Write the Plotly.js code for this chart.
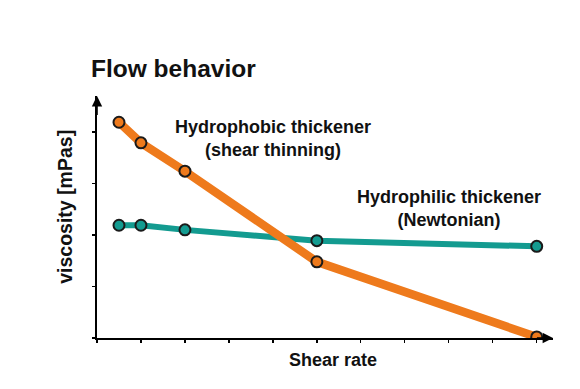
<!DOCTYPE html>
<html><head><meta charset="utf-8">
<script src="https://cdn.plot.ly/plotly-3.0.1.min.js"></script>
<style>html,body{margin:0;padding:0;background:#fff}#c{width:580px;height:389px}</style>
</head><body><div id="c"></div><script>
const shearRate = [0.5, 1, 2, 5, 10];
const hydrophobic = [4.19, 3.79, 3.24, 1.48, 0.02];
const hydrophilic = [2.19, 2.19, 2.10, 1.89, 1.78];
const seriesNames = ['Hydrophobic thickener (shear thinning)', 'Hydrophilic thickener (Newtonian)'];
const labelHydrophobic = ['Hydrophobic thickener', '(shear thinning)'];
const labelHydrophilic = ['Hydrophilic thickener', '(Newtonian)'];
const titleText = 'Flow behavior';
const xTitle = 'Shear rate';
const yTitle = 'viscosity [mPas]';

const ORANGE = '#EE7A1C', TEAL = '#139B90', FONT = '"Liberation Sans", Arial, sans-serif';
const XMAX = 10.37, YMAX = 4.70;

const traces = [
  {x: shearRate, y: hydrophilic, name: seriesNames[1], mode: 'lines+markers',
   line: {color: TEAL, width: 6},
   marker: {size: 11, color: TEAL, line: {color: '#1a1a1a', width: 2}}},
  {x: shearRate, y: hydrophobic, name: seriesNames[0], mode: 'lines+markers',
   line: {color: ORANGE, width: 8.5},
   marker: {size: 11, color: ORANGE, line: {color: '#1a1a1a', width: 2}}}
];

function label(lines, x, y) {
  return {text: '<b>' + lines.join('<br>') + '</b>', x: x, y: y, xref: 'x', yref: 'y', showarrow: false,
    align: 'center', font: {family: FONT, size: 18, color: '#111'}, xanchor: 'center', yanchor: 'middle'};
}
const annotations = [
  label(labelHydrophobic, 4.0, 3.87),
  label(labelHydrophilic, 8.0, 2.52),
  // axis arrows
  {x: XMAX, y: 0, ax: XMAX - 0.4, ay: 0, xref: 'x', yref: 'y', axref: 'x', ayref: 'y',
   text: '', showarrow: true, arrowhead: 2, arrowsize: 1.3, arrowwidth: 1.6, arrowcolor: '#000'},
  {x: 0, y: YMAX, ax: 0, ay: YMAX - 0.4, xref: 'x', yref: 'y', axref: 'x', ayref: 'y',
   text: '', showarrow: true, arrowhead: 2, arrowsize: 1.3, arrowwidth: 1.6, arrowcolor: '#000'},
  // axis titles
  {text: '<b>' + xTitle + '</b>', xref: 'paper', yref: 'paper', x: (333 - 96.7) / (553 - 96.7), y: -0.09,
   showarrow: false, xanchor: 'center', yanchor: 'middle', font: {family: FONT, size: 18, color: '#111'}},
  {text: '<b>' + yTitle + '</b>', xref: 'paper', yref: 'paper', x: -0.072, y: (338.4 - 206.5) / (338.4 - 95.5),
   showarrow: false, textangle: -90, xanchor: 'center', yanchor: 'middle', font: {family: FONT, size: 19.5, color: '#111'}}
];

const layout = {
  width: 580, height: 389,
  margin: {l: 96.7, r: 27, t: 95.5, b: 50.6, pad: 0},
  paper_bgcolor: '#fff', plot_bgcolor: '#fff',
  showlegend: false,
  title: {text: '<b>' + titleText + '</b>', x: 91 / 580, xref: 'container', xanchor: 'left',
          y: 1 - 68 / 389, yref: 'container', yanchor: 'middle',
          font: {family: FONT, size: 24.5, color: '#111'}},
  xaxis: {range: [0, XMAX], showgrid: false, zeroline: false, showline: true, linecolor: '#000', linewidth: 1.6,
          ticks: 'outside', ticklen: 3, tickwidth: 1.3, tickcolor: '#000', tick0: 0, dtick: 1, showticklabels: false},
  yaxis: {range: [0, YMAX], showgrid: false, zeroline: false, showline: true, linecolor: '#000', linewidth: 1.6,
          ticks: 'outside', ticklen: 3, tickwidth: 1.3, tickcolor: '#000', tick0: 0, dtick: 1, showticklabels: false},
  annotations: annotations
};
Plotly.newPlot('c', traces, layout, {displayModeBar: false, staticPlot: true});
</script></body></html>
